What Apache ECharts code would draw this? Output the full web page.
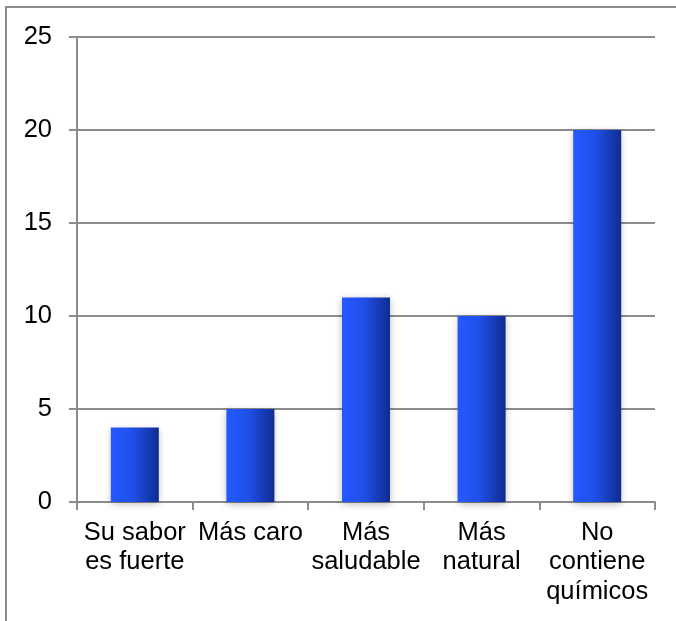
<!DOCTYPE html>
<html>
<head>
<meta charset="utf-8">
<script src="https://cdn.jsdelivr.net/npm/echarts@6/dist/echarts.min.js"></script>
<style>
  html, body { margin: 0; padding: 0; background: #fff; }
  #chart { width: 676px; height: 621px; }
</style>
</head>
<body>
<div id="chart"></div>
<script>
// Survey answers and how many people gave each one
const categories = ['Su sabor\nes fuerte', 'Más caro', 'Más\nsaludable', 'Más\nnatural', 'No\ncontiene\nquímicos'];
const counts = [4, 5, 11, 10, 20];
const yTicks = [0, 5, 10, 15, 20, 25];

const lineGray = '#8c8c8c';
const font = '"Liberation Sans", Arial, sans-serif';

const chart = echarts.init(document.getElementById('chart'), null, { renderer: 'canvas' });

chart.setOption({
  animation: false,
  backgroundColor: '#ffffff',
  graphic: [{
    type: 'rect',
    shape: { x: 6, y: 7, width: 720, height: 700 },
    style: { fill: 'none', stroke: lineGray, lineWidth: 2 },
    silent: true
  }],
  grid: { left: 77, right: 21, top: 37, bottom: 119, containLabel: false },
  xAxis: {
    type: 'category',
    data: categories,
    boundaryGap: true,
    axisLine: { show: true, lineStyle: { color: lineGray, width: 2 } },
    axisTick: { show: true, length: 8, lineStyle: { color: lineGray, width: 2 } },
    axisLabel: {
      interval: 0,
      margin: 16,
      color: '#000',
      fontFamily: font,
      fontSize: 25.5,
      lineHeight: 29.5,
      align: 'center'
    },
    splitLine: { show: false }
  },
  yAxis: {
    type: 'value',
    min: yTicks[0],
    max: yTicks[yTicks.length - 1],
    interval: yTicks[1] - yTicks[0],
    axisLine: { show: true, lineStyle: { color: lineGray, width: 2 } },
    axisTick: { show: true, length: 8, lineStyle: { color: lineGray, width: 2 } },
    axisLabel: {
      margin: 25,
      color: '#000',
      fontFamily: font,
      fontSize: 25.5
    },
    splitLine: { show: true, lineStyle: { color: lineGray, width: 2 } }
  },
  series: [{
    type: 'bar',
    data: counts,
    barWidth: 48,
    itemStyle: {
      color: new echarts.graphic.LinearGradient(0, 0, 1, 0, [
        { offset: 0, color: '#2459ff' },
        { offset: 0.45, color: '#2050ea' },
        { offset: 1, color: '#0f2c90' }
      ]),
      shadowColor: 'rgba(0,0,0,0.28)',
      shadowBlur: 7,
      shadowOffsetY: 2
    }
  }]
});
</script>
</body>
</html>
